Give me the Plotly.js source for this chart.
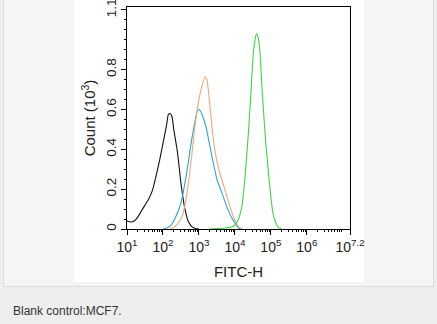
<!DOCTYPE html>
<html>
<head>
<meta charset="utf-8">
<script src="https://cdn.plot.ly/plotly-3.0.1.min.js"></script>
<style>
  html, body { margin: 0; padding: 0; }
  body { width: 437px; height: 324px; background: #eeeeee; position: relative; overflow: hidden; font-family: "Liberation Sans", Arial, sans-serif; }
  #panel { position: absolute; left: 3px; top: -2px; width: 431px; height: 289px; background: #f4f6f6; border: 1px solid #dcdcdc; box-sizing: border-box; }
  #chart { position: absolute; left: 74px; top: 0px; width: 290px; height: 282px; background: #ffffff; }
  #chart .main-svg { overflow: visible; }
  #caption { position: absolute; left: 13px; top: 304px; font-size: 12px; color: #333333; }
</style>
</head>
<body>
<div id="panel"></div>
<div id="chart"></div>
<div id="caption">Blank control:MCF7.</div>
<script>
// FITC-H intensities given as log10 exponents, counts in thousands
const blackLog = [1.0, 1.1, 1.2, 1.3, 1.4, 1.5, 1.6, 1.7, 1.8, 1.9, 2.0, 2.1, 2.15, 2.2, 2.25, 2.3, 2.4, 2.5, 2.6, 2.7, 2.8, 2.9, 3.0];
const blackCount = [0.04, 0.035, 0.04, 0.06, 0.09, 0.12, 0.15, 0.19, 0.26, 0.34, 0.43, 0.52, 0.575, 0.58, 0.565, 0.50, 0.39, 0.23, 0.11, 0.04, 0.012, 0.003, 0];

const blueLog = [2.0, 2.1, 2.2, 2.3, 2.4, 2.5, 2.6, 2.7, 2.8, 2.9, 2.95, 3.0, 3.05, 3.1, 3.2, 3.3, 3.4, 3.5, 3.6, 3.7, 3.8, 3.9, 4.0, 4.1, 4.2];
const blueCount = [0, 0.005, 0.015, 0.04, 0.08, 0.13, 0.22, 0.33, 0.45, 0.55, 0.59, 0.60, 0.59, 0.57, 0.51, 0.42, 0.33, 0.25, 0.20, 0.15, 0.10, 0.06, 0.03, 0.005, 0];

const orangeLog = [2.2, 2.3, 2.4, 2.5, 2.6, 2.7, 2.8, 2.9, 3.0, 3.1, 3.17, 3.22, 3.3, 3.4, 3.5, 3.6, 3.7, 3.8, 3.9, 4.0, 4.1, 4.2];
const orangeCount = [0, 0.008, 0.025, 0.05, 0.11, 0.22, 0.37, 0.53, 0.65, 0.73, 0.765, 0.75, 0.63, 0.45, 0.34, 0.27, 0.21, 0.15, 0.09, 0.045, 0.012, 0];

const greenLog = [3.3, 3.5, 3.7, 3.9, 4.0, 4.1, 4.2, 4.3, 4.4, 4.45, 4.5, 4.55, 4.6, 4.65, 4.7, 4.75, 4.8, 4.85, 4.9, 4.95, 5.0, 5.05, 5.1, 5.2, 5.3];
const greenCount = [0, 0.002, 0.004, 0.01, 0.02, 0.05, 0.12, 0.30, 0.55, 0.70, 0.85, 0.94, 0.98, 0.96, 0.88, 0.72, 0.58, 0.45, 0.35, 0.25, 0.16, 0.09, 0.05, 0.01, 0];

const xTickExp = [1, 2, 3, 4, 5, 6, 7.2];
const xTickText = ["10<sup>1</sup>", "10<sup>2</sup>", "10<sup>3</sup>", "10<sup>4</sup>", "10<sup>5</sup>", "10<sup>6</sup>", "10<sup>7.2</sup>"];
const yTickVals = [0, 0.2, 0.4, 0.6, 0.8, 1.1];
const yTickText = ["0", "0.2", "0.4", "0.6", "0.8", "1.1"];

const toVal = arr => arr.map(e => Math.pow(10, e));

const minorX = [];
for (let d = 1; d <= 7; d++) {
  for (let k = 2; k <= 9; k++) {
    const v = k * Math.pow(10, d);
    if (Math.log10(v) < 7.2) minorX.push(v);
  }
}

const series = [
  {x: blackLog, y: blackCount, color: "#111111", name: "Blank control"},
  {x: blueLog, y: blueCount, color: "#2aa7d8", name: "Isotype"},
  {x: orangeLog, y: orangeCount, color: "#f0a878", name: "Sample 1"},
  {x: greenLog, y: greenCount, color: "#44d444", name: "Sample 2"}
];

const traces = series.map(s => ({
  type: "scatter",
  mode: "lines",
  x: toVal(s.x),
  y: s.y,
  name: s.name,
  line: {color: s.color, width: 1.1, shape: "spline", smoothing: 0.6},
  hoverinfo: "skip"
}));

const axisFont = {family: "Liberation Sans, Arial, sans-serif", size: 14, color: "#222222"};

const layout = {
  width: 290,
  height: 282,
  margin: {l: 53, r: 14, t: 7, b: 53},
  paper_bgcolor: "#ffffff",
  plot_bgcolor: "#ffffff",
  showlegend: false,
  xaxis: {
    type: "log",
    range: [1, 7.2],
    showline: true, linecolor: "#000000", linewidth: 1, mirror: true,
    showgrid: false, zeroline: false,
    tickmode: "array",
    tickvals: toVal(xTickExp),
    ticktext: xTickText,
    ticklabeloverflow: "allow",
    ticks: "outside", ticklen: 5, tickwidth: 1, tickcolor: "#000000",
    tickfont: axisFont,
    minor: {tickmode: "array", tickvals: minorX, ticks: "outside", ticklen: 2, tickwidth: 1, tickcolor: "#000000", showgrid: false},
    title: {text: "FITC-H", font: {family: axisFont.family, size: 15, color: "#222222"}, standoff: 12}
  },
  yaxis: {
    range: [0, 1.115],
    showline: true, linecolor: "#000000", linewidth: 1, mirror: true,
    showgrid: false, zeroline: false,
    tickmode: "array",
    tickvals: yTickVals,
    ticktext: yTickText,
    ticklabeloverflow: "allow",
    tickangle: -90,
    ticks: "outside", ticklen: 5, tickwidth: 1, tickcolor: "#000000",
    tickfont: {family: axisFont.family, size: 13.5, color: "#222222"},
    minor: {dtick: 0.05, tick0: 0, ticks: "outside", ticklen: 2, tickwidth: 1, tickcolor: "#000000", showgrid: false},
    title: {text: "Count (10<sup>3</sup>)", font: {family: axisFont.family, size: 15, color: "#222222"}, standoff: 4}
  }
};

Plotly.newPlot("chart", traces, layout, {displayModeBar: false, staticPlot: true});
</script>
</body>
</html>
